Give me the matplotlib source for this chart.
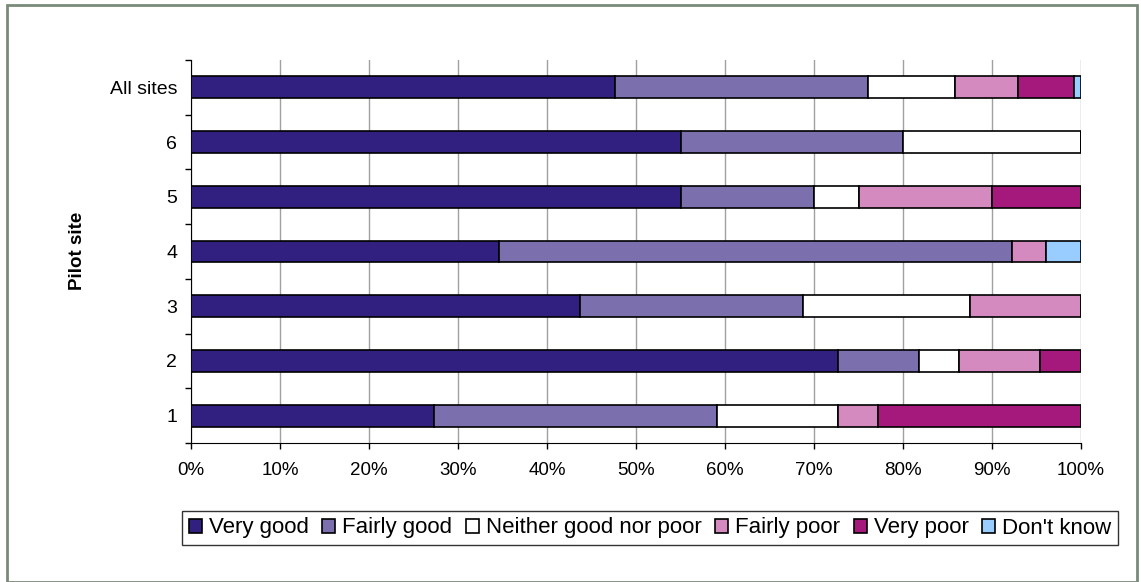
import numpy as np
import matplotlib
matplotlib.use("Agg")
import matplotlib.pyplot as plt
from matplotlib.patches import Rectangle
from matplotlib.ticker import FixedLocator, PercentFormatter

plt.rcParams['font.family'] = ['Liberation Sans', 'DejaVu Sans']

# ----- data (percent of respondents per site, bottom row first)
sites = ["1", "2", "3", "4", "5", "6", "All sites"]
categories = ["Very good", "Fairly good", "Neither good nor poor",
              "Fairly poor", "Very poor", "Don't know"]
very_good = [27.3, 72.7, 43.75, 34.6, 55.0, 55.0, 47.6]
fairly_good = [31.8, 9.1, 25.0, 57.7, 15.0, 25.0, 28.5]
neither = [13.6, 4.5, 18.75, 0.0, 5.0, 20.0, 9.7]
fairly_poor = [4.5, 9.1, 12.5, 3.8, 15.0, 0.0, 7.1]
very_poor = [22.8, 4.6, 0.0, 0.0, 10.0, 0.0, 6.3]
dont_know = [0.0, 0.0, 0.0, 3.9, 0.0, 0.0, 0.8]

colors = ["#322080", "#7B70AD", "#FFFFFF", "#D48ABE", "#A5187C", "#99CCFF"]

series = [very_good, fairly_good, neither, fairly_poor, very_poor, dont_know]

W, H = 1141, 582
fig = plt.figure(figsize=(W / 100, H / 100), dpi=100)
ax = fig.add_axes([191 / W, 1 - 443 / H, 890 / W, 383 / H])

y = np.arange(len(sites))
left = np.zeros(len(sites))
for vals, name, col in zip(series, categories, colors):
    vals = np.array(vals)
    ax.barh(y, vals, left=left, height=0.4, color=col, edgecolor="black",
            linewidth=1.2, label=name, zorder=3)
    left += vals

# ----- axes decoration
ax.set_xlim(0, 100)
ax.set_ylim(-0.5, len(sites) - 0.5)
ax.set_xticks(np.arange(0, 101, 10))
ax.xaxis.set_major_formatter(PercentFormatter(decimals=0))
ax.grid(axis="x", color="#A0A0A0", linewidth=1, zorder=0)
ax.set_yticks(y)
ax.set_yticklabels(sites)
ax.yaxis.set_minor_locator(FixedLocator(np.arange(-0.5, len(sites), 1)))
ax.tick_params(axis="y", which="major", length=0, pad=10, labelsize=14)
ax.tick_params(axis="y", which="minor", length=4, width=1, direction="out")
ax.tick_params(axis="x", length=4, width=1, direction="out", pad=10, labelsize=13.5)
for side in ["top", "right"]:
    ax.spines[side].set_visible(False)
ax.spines["left"].set_color("black")
ax.spines["bottom"].set_color("black")
ax.set_ylabel("Pilot site", fontsize=13.5, fontweight="bold")
ax.yaxis.set_label_coords((86 - 191) / 890, (443 - 251) / 383)

leg = fig.legend(loc="center", bbox_to_anchor=(182 / W, 1 - 528 / H, 936 / W, 0),
                 mode="expand", ncol=6,
                 fontsize=16, frameon=True, fancybox=False, edgecolor="black",
                 handlelength=0.6, handleheight=0.6, handletextpad=0.3,
                 columnspacing=0.3, borderpad=0.3, borderaxespad=0)
leg.get_frame().set_linewidth(1)

# outer chart frame
fig.patches.append(Rectangle((7 / W, 0), 1130 / W, 1 - 5 / H,
                             transform=fig.transFigure, fill=False,
                             edgecolor="#7A8A7A", linewidth=2))

fig.savefig("out.png", dpi=100)
